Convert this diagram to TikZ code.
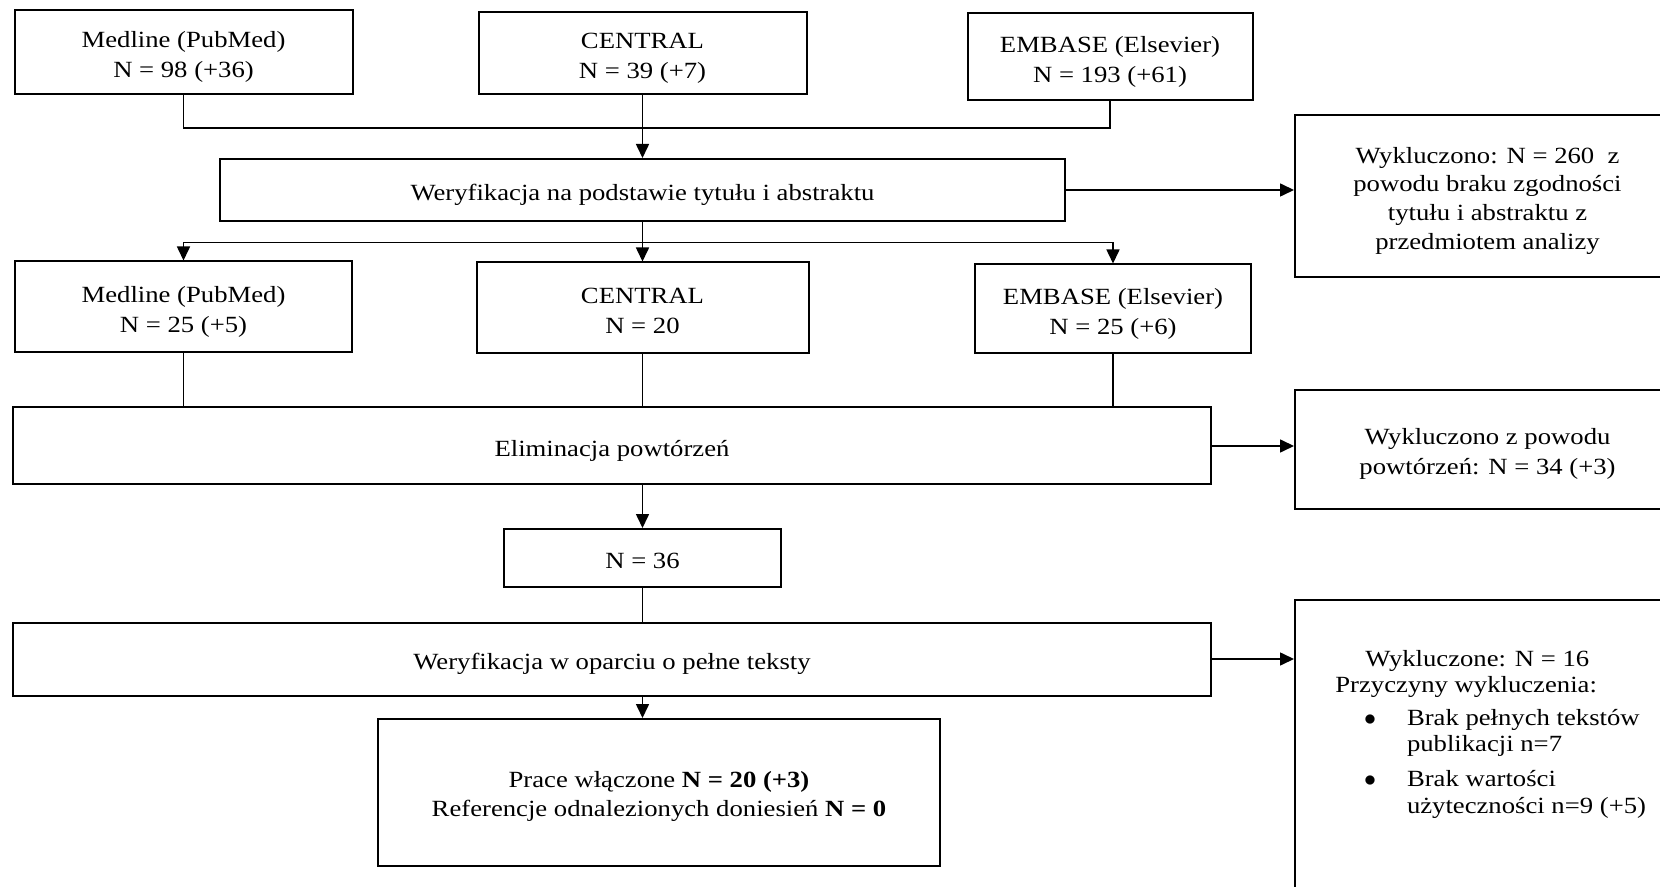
\documentclass[tikz,border=0pt]{standalone}
\usepackage{fontspec}
\setmainfont{Liberation Serif}[FakeStretch=1.15]
\usetikzlibrary{arrows.meta}

% Stuetze fuer die Kaesten (Text etwas tiefer wie im Original)
\newcommand{\oben}{\rule{0pt}{13.5pt}}

\tikzset{
	box/.style={draw, line width=1pt, inner sep=0pt, align=center, font=\fontsize{11.6}{15}\selectfont,
		execute at end node=\rule[-3.2pt]{0pt}{0pt}},
	linie/.style={line width=0.8pt},
	pfeil/.style={-{Triangle[length=7pt,width=6.5pt]}, line width=0.8pt}
}

\begin{document}
\begin{tikzpicture}[x=0.5pt, y=-0.5pt]
	%\draw [lightgray](0,0) grid[step=100] (1660,887);
	\clip (0,0) rectangle (1660,887);

	% Datenbanken oben
	\node[box, minimum width=169pt, minimum height=42pt] (medlineA) at (183.5,52.5) {\oben Medline (PubMed)\\N = 98 (+36)};
	\node[box, minimum width=164pt, minimum height=41pt] (centralA) at (642.5,53.5) {\oben CENTRAL\\N = 39 (+7)};
	\node[box, minimum width=142.5pt, minimum height=43.5pt] (embaseA) at (1110,57) {\oben EMBASE (Elsevier)\\N = 193 (+61)};

	% Erste Verifikation und Ausschluss
	\node[box, minimum width=422.5pt, minimum height=31pt] (verifA) at (642.5,190) {\oben Weryfikacja na podstawie tytułu i abstraktu};
	\node[box, minimum width=192.5pt, minimum height=81pt, font=\fontsize{11.6}{14.4}\selectfont] (exclA) at (1487.5,196) {\oben Wykluczono: N = 260~~z\\powodu braku zgodności\\tytułu i abstraktu z\\przedmiotem analizy};

	% Datenbanken nach Verifikation
	\node[box, minimum width=168.5pt, minimum height=45.5pt] (medlineB) at (183.5,307) {\oben Medline (PubMed)\\N = 25 (+5)};
	\node[box, minimum width=166pt, minimum height=45.5pt] (centralB) at (642.5,308) {\oben CENTRAL\\N = 20};
	\node[box, minimum width=138pt, minimum height=44.5pt] (embaseB) at (1113,309) {\oben EMBASE (Elsevier)\\N = 25 (+6)};

	% Duplikate
	\node[box, minimum width=599pt, minimum height=38.5pt] (elim) at (612,446) {\oben Eliminacja powtórzeń};
	\node[box, minimum width=192.5pt, minimum height=59.5pt] (exclB) at (1487.5,449.5) {\oben Wykluczono z powodu\\powtórzeń: N = 34 (+3)};
	\node[box, minimum width=138.5pt, minimum height=29pt] (nthirtysix) at (642.5,558) {\oben N = 36};

	% Volltexte
	\node[box, minimum width=599pt, minimum height=36.5pt] (verifB) at (612,659) {\oben Weryfikacja w oparciu o pełne teksty};
	\node[box, minimum width=192.5pt, minimum height=165pt] (exclC) at (1487.5,765) {};
	\node[anchor=north west, inner sep=0pt, align=left, font=\fontsize{11.6}{13.2}\selectfont] (grund) at (1335,650) {\hspace*{15pt}Wykluczone: N = 16\\
		Przyczyny wykluczenia:\\[3pt]
		\makebox[35.8pt][l]{\hspace*{14.4pt}$\bullet$}Brak pełnych tekstów\\
		\hspace*{35.8pt}publikacji n=7\\[4.3pt]
		\makebox[35.8pt][l]{\hspace*{14.4pt}$\bullet$}Brak wartości\\
		\hspace*{35.8pt}użyteczności n=9 (+5)};
	\node[box, minimum width=281pt, minimum height=73.5pt, font=\fontsize{11.6}{14.4}\selectfont] (included) at (659,792.5) {\rule{0pt}{12.5pt}Prace włączone \textbf{N = 20 (+3)}\\Referencje odnalezionych doniesień \textbf{N = 0}};

	% Hilfspunkte fuer die Sammellinien
	\coordinate (oben) at (0,128);
	\coordinate (mitte) at (0,242.4);

	% Zusammenfuehrung der Datenbanken
	\draw[linie] (medlineA.south) -- (medlineA.south |- oben) -- (embaseA.south |- oben) -- (embaseA.south);
	\draw[pfeil] (centralA.south) -- (verifA.north);

	% Aufteilung nach Verifikation
	\draw[pfeil] (verifA.south) -- (centralB.north);
	\draw[linie] (medlineB.north |- mitte) -- (embaseB.north |- mitte);
	\draw[pfeil] (medlineB.north |- mitte) -- (medlineB.north);
	\draw[pfeil] (embaseB.north |- mitte) -- (embaseB.north);

	% Linien zur Elimination
	\draw[linie] (medlineB.south) -- (medlineB.south |- elim.north);
	\draw[linie] (centralB.south) -- (centralB.south |- elim.north);
	\draw[linie] (embaseB.south) -- (embaseB.south |- elim.north);

	% Mittlere Kette
	\draw[pfeil] (nthirtysix.north |- elim.south) -- (nthirtysix.north);
	\draw[linie] (nthirtysix.south) -- (nthirtysix.south |- verifB.north);
	\draw[pfeil] (nthirtysix.south |- verifB.south) -- (nthirtysix.south |- included.north);

	% Ausschluesse rechts
	\draw[pfeil] (verifA.east) -- (verifA.east -| exclA.west);
	\draw[pfeil] (elim.east) -- (elim.east -| exclB.west);
	\draw[pfeil] (verifB.east) -- (verifB.east -| exclC.west);
\end{tikzpicture}
\end{document}
